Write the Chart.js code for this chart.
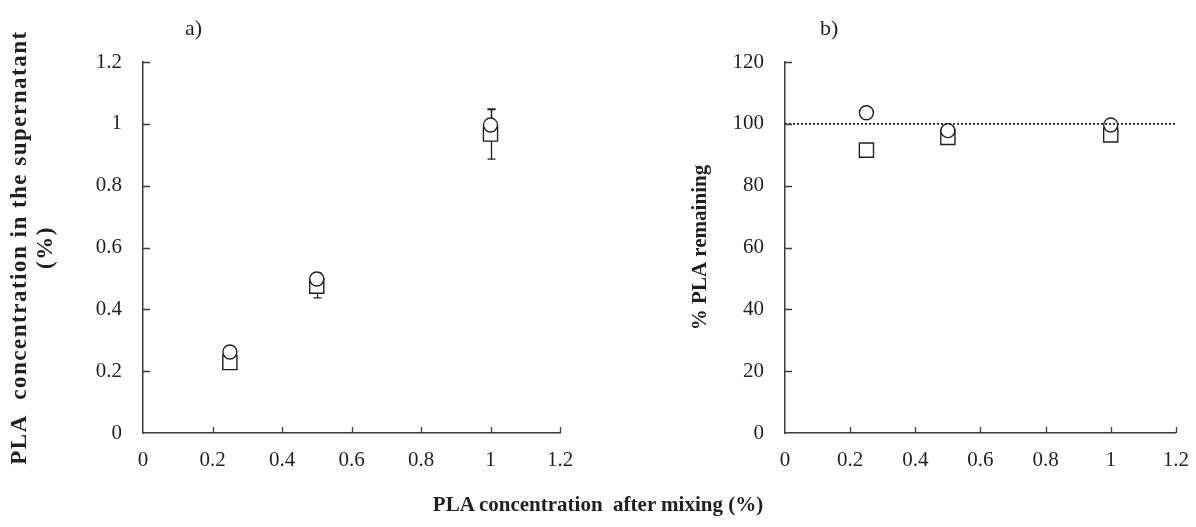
<!DOCTYPE html>
<html>
<head>
<meta charset="utf-8">
<script src="https://cdn.jsdelivr.net/npm/chart.js@4.4.1/dist/chart.umd.min.js"></script>
<style>
  html, body { margin: 0; padding: 0; background: #fff; }
  body { width: 1196px; height: 527px; position: relative; overflow: hidden; font-family: "Liberation Serif", "Times New Roman", serif; color: #231f20; }
  #wa { position: absolute; left: 0; top: 0; width: 600px; height: 527px; }
  #wb { position: absolute; left: 600px; top: 0; width: 596px; height: 527px; }
  .lab { position: absolute; white-space: pre; }
  #ta { left: 185px; top: 15px; font-size: 22px; }
  #tb { left: 820px; top: 15px; font-size: 22px; }
  #xt { left: 0; width: 1196px; text-align: center; top: 492px; font-size: 21px; font-weight: bold; }
</style>
</head>
<body>
<div id="wa"><canvas id="ca" width="600" height="527"></canvas></div>
<div id="wb"><canvas id="cb" width="596" height="527"></canvas></div>
<div class="lab" id="ta">a)</div>
<div class="lab" id="tb">b)</div>
<div class="lab" id="xt">PLA concentration  after mixing (%)</div>
<script>
// ---- data ----
const concentrations = [0.25, 0.5, 1.0];
const supernatantCircle = [0.262, 0.498, 0.996];
const supernatantCircleErr = [0, 0.02, 0.05];
const supernatantSquare = [0.228, 0.475, 0.967];
const supernatantSquareErr = [0, 0.038, 0.081];
const remainingCircle = [103.6, 97.8, 99.6];
const remainingSquare = [91.5, 95.6, 96.4];
const referenceX = [0, 1.2];
const referenceY = [100, 100];
const xTickLabels = ['0', '0.2', '0.4', '0.6', '0.8', '1', '1.2'];
const yTickLabelsA = ['0', '0.2', '0.4', '0.6', '0.8', '1', '1.2'];
const yTickLabelsB = ['0', '20', '40', '60', '80', '100', '120'];
const yTitleA = ['PLA  concentration in the supernatant', '(%)'];
const yTitleB = '% PLA remaining';

const INK = '#231f20';
const AXIS = '#3c3c3c';
const SERIF = '"Liberation Serif", "Times New Roman", serif';
const tickFont = { family: SERIF, size: 21 };

function pts(xs, ys) { return xs.map((x, i) => ({ x: x, y: ys[i] })); }
function ticksFrom(labels) {
  return function (scale) { scale.ticks = labels.map(l => ({ value: parseFloat(l) })); };
}
function labelFrom(labels) {
  return function (v, i) { return labels[i]; };
}

const errorBars = {
  id: 'errorBars',
  beforeDatasetsDraw(chart) {
    const ctx = chart.ctx, xs = chart.scales.x, ys = chart.scales.y;
    ctx.save();
    ctx.strokeStyle = INK;
    ctx.lineWidth = 1.3;
    chart.data.datasets.forEach(ds => {
      if (!ds.errors) return;
      ds.data.forEach((p, i) => {
        const e = ds.errors[i];
        if (!e) return;
        const px = Math.round(xs.getPixelForValue(p.x)) + 0.5;
        const top = ys.getPixelForValue(p.y + e);
        const bot = ys.getPixelForValue(p.y - e);
        ctx.beginPath();
        ctx.moveTo(px, top); ctx.lineTo(px, bot);
        ctx.moveTo(px - 4, top); ctx.lineTo(px + 4, top);
        ctx.moveTo(px - 4, bot); ctx.lineTo(px + 4, bot);
        ctx.stroke();
      });
    });
    ctx.restore();
  }
};

const inwardTicks = {
  id: 'inwardTicks',
  afterDraw(chart) {
    const ctx = chart.ctx, xs = chart.scales.x, ys = chart.scales.y;
    const a = chart.chartArea;
    ctx.save();
    ctx.strokeStyle = AXIS;
    ctx.lineWidth = 1.3;
    ctx.beginPath();
    xs.ticks.forEach(t => {
      if (t.value === xs.min) return;
      const px = Math.round(xs.getPixelForValue(t.value)) + 0.5;
      ctx.moveTo(px, a.bottom); ctx.lineTo(px, a.bottom - 6);
    });
    ys.ticks.forEach(t => {
      if (t.value === ys.min) return;
      const py = Math.round(ys.getPixelForValue(t.value)) + 0.5;
      ctx.moveTo(a.left, py); ctx.lineTo(a.left + 7, py);
    });
    ctx.stroke();
    ctx.restore();
  }
};

function makeOptions(cfg) {
  return {
    responsive: false,
    animation: false,
    events: [],
    layout: { padding: cfg.padding },
    plugins: { legend: { display: false }, tooltip: { enabled: false }, title: { display: false } },
    scales: {
      x: {
        type: 'linear', min: 0, max: 1.2,
        afterBuildTicks: ticksFrom(xTickLabels),
        afterFit(s) { s.height = 94; },
        grid: { display: false },
        border: { display: true, color: AXIS, width: 1.5 },
        ticks: { color: INK, font: tickFont, padding: 7, maxRotation: 0, autoSkip: false, callback: labelFrom(xTickLabels) }
      },
      y: {
        type: 'linear', min: cfg.ymin, max: cfg.ymax,
        afterBuildTicks: ticksFrom(cfg.yTicks),
        afterFit(s) {
          s.width = cfg.yWidth;
          if (!s._spacedTitle) {
            const orig = s.drawTitle;
            s.drawTitle = function () {
              const ctx = this.ctx;
              ctx.save();
              ctx.letterSpacing = cfg.titleSpacing;
              orig.apply(this, arguments);
              ctx.restore();
            };
            s._spacedTitle = true;
          }
        },
        grid: { display: false },
        border: { display: true, color: AXIS, width: 1.5 },
        ticks: { color: INK, font: tickFont, padding: 13, autoSkip: false, callback: labelFrom(cfg.yTicks) },
        title: { display: true, text: cfg.yTitle, color: INK, font: cfg.titleFont, padding: { top: cfg.titlePad, bottom: 0 } }
      }
    }
  };
}

const circleStyle = { pointStyle: 'circle', pointRadius: 7, pointBorderColor: INK, pointBackgroundColor: '#ffffff', pointBorderWidth: 1.4, showLine: false };
const squareStyle = { pointStyle: 'rect', pointRadius: 10, pointBorderColor: INK, pointBackgroundColor: '#ffffff', pointBorderWidth: 1.4, showLine: false };

new Chart(document.getElementById('ca'), {
  type: 'scatter',
  data: {
    datasets: [
      Object.assign({ label: 'circle', data: pts(concentrations, supernatantCircle), errors: supernatantCircleErr }, circleStyle),
      Object.assign({ label: 'square', data: pts(concentrations, supernatantSquare), errors: supernatantSquareErr }, squareStyle)
    ]
  },
  options: makeOptions({
    padding: { left: 0, top: 62, right: 40, bottom: 0 }, ymin: 0, ymax: 1.2, yTicks: yTickLabelsA, yWidth: 143,
    yTitle: yTitleA, titlePad: 8, titleSpacing: '1.5px', titleFont: { family: SERIF, size: 23, weight: 'bold', lineHeight: 1.09 }
  }),
  plugins: [errorBars, inwardTicks]
});

new Chart(document.getElementById('cb'), {
  type: 'scatter',
  data: {
    datasets: [
      { label: 'ref', data: pts(referenceX, referenceY), showLine: true, borderColor: INK, borderWidth: 1.6, borderDash: [2, 2], pointRadius: 0, fill: false },
      Object.assign({ label: 'circle', data: pts(concentrations, remainingCircle) }, circleStyle),
      Object.assign({ label: 'square', data: pts(concentrations, remainingSquare) }, squareStyle)
    ]
  },
  options: makeOptions({
    padding: { left: 0, top: 62, right: 19, bottom: 0 }, ymin: 0, ymax: 120, yTicks: yTickLabelsB, yWidth: 185,
    yTitle: yTitleB, titlePad: 87, titleSpacing: '0px', titleFont: { family: SERIF, size: 21, weight: 'bold', lineHeight: 1.25 }
  }),
  plugins: [inwardTicks]
});
</script>
</body>
</html>
